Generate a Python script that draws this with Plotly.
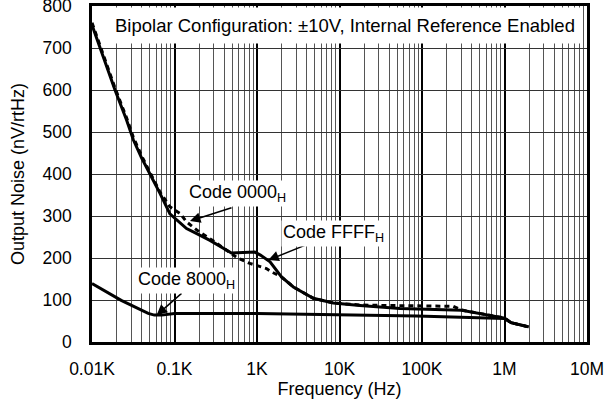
import numpy as np
import plotly.graph_objects as go

# ---- data (frequency in Hz, output noise in nV/rtHz) ----
ffff_f = [10, 14.2, 19, 26.3, 31.6, 40, 50.5, 66.7, 88, 96.6, 117, 140, 169, 269, 490, 700, 940,
          1100, 1440, 1980, 2760, 4820, 8410, 17700, 54000, 303000, 556000, 1000000,
          1200000, 1960000]
ffff_v = [755, 670, 600, 528, 482, 438, 401, 354, 305, 298, 282, 270, 262, 242, 212, 213, 214,
          207, 191, 155, 131, 104, 93, 87, 80, 75.5, 66, 57, 46, 36]

c0000_f = [10, 14.2, 19, 26.3, 31.6, 40, 50.5, 66.7, 88, 117, 140, 200, 300, 470, 570, 820,
           1300, 1500, 1800, 1980, 2760, 4820, 8410, 17700, 34000, 100000, 238000,
           303000, 556000, 1000000, 1200000, 1960000]
c0000_v = [760, 675, 605, 533, 488, 443, 405, 357, 322, 306, 286, 262, 240, 214, 201, 187,
           175, 167, 160, 155, 131, 104, 93, 88, 87, 86, 85, 76, 66, 57, 46, 36]

c8000_f = [10, 22.6, 48, 57, 70, 84, 100, 1000, 17700, 54000, 86000, 1000000,
           1200000, 1960000]
c8000_v = [139, 99, 68, 64, 64, 66, 68, 68, 64, 63, 62, 56, 46, 36]

x_tickvals = [10, 100, 1e3, 1e4, 1e5, 1e6, 1e7]
x_ticktext = ["0.01K", "0.1K", "1K", "10K", "100K", "1M", "10M"]
minor_vals = [m * 10 ** d for d in range(1, 7) for m in range(2, 10)]

title_text = "Bipolar Configuration: \u00b110V, Internal Reference Enabled"

# labels: (text, text_f, text_v, tail_f, tail_v, head_f, head_v)
labels = [
    ("Code 0000<sub>H</sub>", 573, 354, 512, 321, 154, 288),
    ("Code FFFF<sub>H</sub>", 8570, 259, 4385, 235, 1371, 195),
    ("Code 8000<sub>H</sub>", 141, 147, 127, 119, 60.8, 64),
]

FONT = "Liberation Sans, Arial, sans-serif"

fig = go.Figure()
fig.add_trace(go.Scatter(x=c0000_f, y=c0000_v, mode="lines",
                         line=dict(color="black", width=3, dash="5px,4px"),
                         name="Code 0000H"))
fig.add_trace(go.Scatter(x=ffff_f, y=ffff_v, mode="lines",
                         line=dict(color="black", width=3), name="Code FFFFH"))
fig.add_trace(go.Scatter(x=c8000_f, y=c8000_v, mode="lines",
                         line=dict(color="black", width=3), name="Code 8000H"))

ann = []
ann.append(dict(text=title_text, xref="paper", yref="paper", x=0.511, y=0.941,
                xanchor="center", yanchor="middle",
                showarrow=False, bgcolor="white", borderpad=7,
                font=dict(size=18.5, color="black", family=FONT)))
for t, tf, tv, af, av, hf, hv in labels:
    ann.append(dict(text="", xref="x", yref="y", axref="x", ayref="y",
                    x=np.log10(hf), y=hv, ax=np.log10(af), ay=av,
                    showarrow=True, arrowhead=2, arrowsize=1.4, arrowwidth=1.5,
                    arrowcolor="black", standoff=0, startstandoff=0))
    ann.append(dict(text=t, xref="x", yref="y", x=np.log10(tf), y=tv,
                    xanchor="center", yanchor="middle",
                    showarrow=False, bgcolor="white", borderpad=1,
                    font=dict(size=18, color="black", family=FONT)))

fig.update_layout(
    width=606, height=409,
    margin=dict(l=92, r=19, t=6, b=67, autoexpand=False),
    plot_bgcolor="white", paper_bgcolor="white",
    showlegend=False, hovermode=False,
    font=dict(family=FONT, size=17.5, color="black"),
    annotations=ann,
)
fig.update_xaxes(
    type="log", range=[1, 7], automargin=False,
    tickmode="array", tickvals=x_tickvals, ticktext=x_ticktext,
    showgrid=True, gridcolor="black", gridwidth=2,
    minor=dict(tickmode="array", tickvals=minor_vals, showgrid=True,
               gridcolor="#555555", gridwidth=1.3, ticks=""),
    showline=True, linecolor="black", linewidth=2.5, mirror=True,
    ticks="", ticklabelstandoff=9, ticklabeloverflow="allow",
    title=dict(text="Frequency (Hz)", font=dict(size=18), standoff=5),
    zeroline=False,
)
fig.update_yaxes(
    range=[0, 800], dtick=100, automargin=False,
    showgrid=True, gridcolor="#333333", gridwidth=1.2,
    showline=True, linecolor="black", linewidth=2.5, mirror=True,
    ticks="", ticklabelstandoff=14, ticklabeloverflow="allow",
    title=dict(text="Output Noise (nV/rtHz)", font=dict(size=18), standoff=14),
    zeroline=False,
)

fig.write_html("out.html", config={"displayModeBar": False},
               post_script="document.body.style.margin='0';")
